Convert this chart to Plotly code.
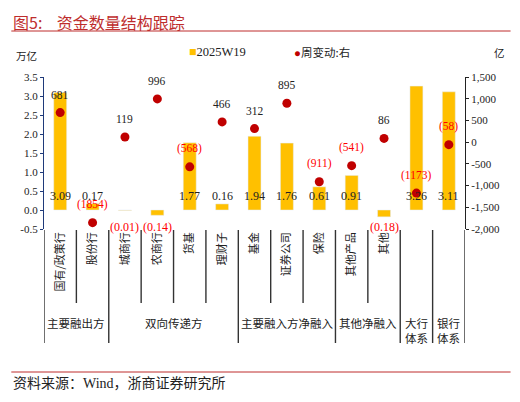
import plotly.graph_objects as go

categories = ["国有/政策行", "股份行", "城商行", "农商行", "货基", "理财子", "基金",
              "证券公司", "保险", "其他产品", "其他", "", ""]
stock_values = [3.09, 0.17, -0.01, -0.14, 1.77, 0.16, 1.94, 1.76, 0.61, 0.91, -0.18, 3.26, 3.11]
weekly_change = [681, -1854, 119, 996, -568, 466, 312, 895, -911, -541, 86, -1173, -58]
groups = [("主要融出方", 0, 1), ("双向传递方", 2, 5), ("主要融入方净融入", 6, 8),
          ("其他净融入", 9, 10), ("大行<br>体系", 11, 11), ("银行<br>体系", 12, 12)]
left_ticks = [-0.5, 0.0, 0.5, 1.0, 1.5, 2.0, 2.5, 3.0, 3.5]
right_ticks = [-2000, -1500, -1000, -500, 0, 500, 1000, 1500]
series_names = ["2025W19", "周变动:右"]

SERIF = "Liberation Serif, Noto Sans CJK SC"
CJK = "Noto Sans CJK SC"
GOLD = "#FFC000"
DOT = "#C00000"
RED = "#FF0000"
TITLE_RED = "#BE2D2D"

n = len(categories)
xidx = list(range(n))

fig = go.Figure()
fig.add_trace(go.Bar(x=xidx, y=stock_values, marker_color=GOLD, width=0.4,
                     name=series_names[0], yaxis="y", showlegend=False))
fig.add_trace(go.Scatter(x=xidx, y=weekly_change, mode="markers", name=series_names[1],
                         marker=dict(color=DOT, size=9), yaxis="y2", showlegend=False))

ann = []
# bar value labels
for i, v in enumerate(stock_values):
    if v >= 0:
        ann.append(dict(x=i, y=0.37, xref="x", yref="y", text=f"{v:.2f}", showarrow=False,
                        font=dict(family=SERIF, size=12, color="#222"), yanchor="middle"))
    else:
        ann.append(dict(x=i, y=-0.44, xref="x", yref="y", text=f"({abs(v):.2f})", showarrow=False,
                        font=dict(family=SERIF, size=12, color=RED), yanchor="middle"))
# scatter labels
for i, v in enumerate(weekly_change):
    txt = f"{v}" if v >= 0 else f"({abs(v)})"
    col = "#222" if v >= 0 else RED
    ann.append(dict(x=i, y=v, xref="x", yref="y2", text=txt, showarrow=False, yshift=18,
                    yanchor="middle", font=dict(family=SERIF, size=11.5, color=col)))

# helpers: page pixel -> paper coords (plot area spans page x 41..466, y 77..229)
PH = 152.0
PW = 425.0
def py(px):
    return (229 - px) / PH

def pxx(px):
    return (px - 41) / PW

for name, a, b in groups:
    ann.append(dict(x=(a + b) / 2, y=py(313), xref="x", yref="paper", text=name, showarrow=False,
                    yanchor="top", font=dict(family=CJK, size=11.5, color="#222")))

# separators
shapes = []
long_bounds = set()
for name, a, b in groups:
    long_bounds.add(a - 0.5)
    long_bounds.add(b + 0.5)
for k in range(n + 1):
    bx = k - 0.5
    y1 = py(343) if bx in long_bounds else py(303)
    shapes.append(dict(type="line", xref="x", yref="paper", x0=bx, x1=bx, y0=py(230), y1=y1,
                       line=dict(color="#333", width=1.4)))

# header / footer lines
for yl in (31, 372):
    shapes.append(dict(type="line", xref="paper", yref="paper", x0=pxx(8), x1=pxx(512),
                       y0=py(yl), y1=py(yl), line=dict(color=TITLE_RED, width=1)))

# title, source, units, legend
ann += [
    dict(x=pxx(8), y=py(8), xref="paper", yref="paper", xanchor="left", yanchor="top",
         text="图5:    资金数量结构跟踪", showarrow=False,
         font=dict(family=CJK, size=16, color=TITLE_RED)),
    dict(x=pxx(8), y=py(394), xref="paper", yref="paper", xanchor="left", yanchor="bottom",
         text="资料来源：<span style='font-family:Liberation Serif'>Wind</span>，浙商证券研究所",
         showarrow=False, font=dict(family=CJK, size=14, color="#222")),
    dict(x=pxx(23), y=py(55), xref="paper", yref="paper", xanchor="center", yanchor="middle",
         text="万亿", showarrow=False, font=dict(family=CJK, size=10.5, color="#222")),
    dict(x=pxx(501), y=py(52), xref="paper", yref="paper", xanchor="center", yanchor="middle",
         text="亿", showarrow=False, font=dict(family=CJK, size=10.5, color="#222")),
    dict(x=pxx(185), y=py(52), xref="paper", yref="paper", xanchor="left", yanchor="middle",
         text=f"<span style='color:{GOLD}'>■</span>{series_names[0]}", showarrow=False,
         font=dict(family=SERIF, size=12.5, color="#222")),
    dict(x=pxx(291), y=py(52), xref="paper", yref="paper", xanchor="left", yanchor="middle",
         text=f"<span style='color:{DOT}'>●</span><span style='font-family:Noto Sans CJK SC'>{series_names[1]}</span>",
         showarrow=False, font=dict(family=SERIF, size=11.5, color="#222")),
]

# page has an 8px body margin: figure is 504x386, placed at page (8, 8)
fig.update_layout(
    width=504, height=386,
    margin=dict(l=33, r=46, t=69, b=165),
    paper_bgcolor="white", plot_bgcolor="white",
    xaxis=dict(range=[-0.5, n - 0.5], tickmode="array", tickvals=xidx, ticktext=categories,
               tickangle=-90, ticks="", showline=False, showgrid=False, zeroline=False,
               tickfont=dict(family=CJK, size=11, color="#222")),
    xaxis2=dict(overlaying="x", anchor="free", position=0.125, range=[-0.5, n - 0.5],
                tickmode="linear", tick0=-0.5, dtick=1, ticks="outside", ticklen=4,
                tickcolor="#222", showticklabels=False, showline=True, linecolor="#222",
                linewidth=1, showgrid=False, zeroline=False),
    yaxis=dict(range=[-0.5, 3.5], tickvals=left_ticks, ticktext=[f"{v:.1f}" for v in left_ticks],
               showline=True, linecolor="#1F3A7A", linewidth=1.3, ticks="outside", ticklen=3,
               tickcolor="#1F3A7A", showgrid=False, zeroline=False,
               tickfont=dict(family=SERIF, size=11, color="#222")),
    yaxis2=dict(range=[-2000, 1500], overlaying="y", side="right", tickvals=right_ticks,
                ticktext=[f"{v:,}" for v in right_ticks], showline=True, linecolor="#222",
                linewidth=1, ticks="outside", ticklen=3, tickcolor="#222", showgrid=False,
                zeroline=False, tickfont=dict(family=SERIF, size=11, color="#222")),
    annotations=ann, shapes=shapes, showlegend=False,
)

fig.write_html("out.html")
